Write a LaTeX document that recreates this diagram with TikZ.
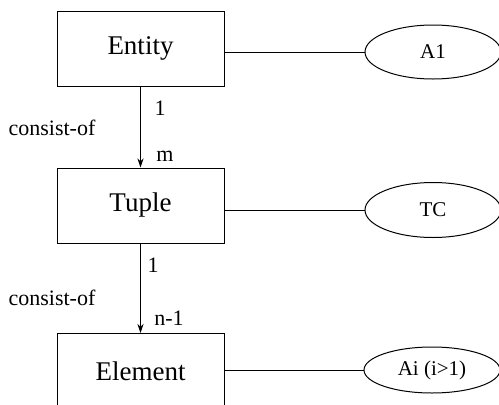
\documentclass[tikz,border=0pt]{standalone}
\usepackage{fontspec}
\setmainfont{Liberation Serif}
\usetikzlibrary{arrows.meta,shapes.geometric}
\begin{document}
\begin{tikzpicture}[x=1pt,y=-1pt,
  entitybox/.style={draw,line width=1pt,minimum width=167pt,minimum height=75pt,
    inner sep=0pt,font=\fontsize{27}{30}\selectfont},
  attr/.style={draw,ellipse,line width=1pt,minimum width=136pt,inner sep=0pt,
    font=\fontsize{21}{24}\selectfont},
  lbl/.style={inner sep=0pt,font=\fontsize{22}{25}\selectfont},
  link/.style={line width=1pt},
  rel/.style={line width=1pt,-{Stealth[length=9pt,width=6pt]}}]
\useasboundingbox (0,0) rectangle (499,405);
\clip (0,0) rectangle (499,405);
% entity boxes
\node[entitybox] (entity) at (140.5,48.5) {Entity};
\node[entitybox] (tuple) at (140.5,205.5) {Tuple};
\node[entitybox] (element) at (140.5,371) {Element};
% attribute ellipses
\node[attr,minimum height=54pt] (a1) at (433,52) {A1};
\node[attr,minimum height=55pt] (tc) at (433,210) {TC};
\node[attr,minimum height=46pt] (ai) at (432,370) {Ai (i>1)};
% attribute links
\draw[link] (entity.east |- a1.west) -- (a1.west);
\draw[link] (tuple.east |- tc.west) -- (tc.west);
\draw[link] (element.east |- ai.west) -- (ai.west);
% consist-of relationships
\draw[rel] (entity.south) -- (tuple.north);
\draw[rel] (tuple.south) -- (element.north);
% relationship labels
\node[lbl] (c1) at (160,108) {1};
\node[lbl] (c2) at (165,156) {m};
\node[lbl] (r1) at (52,128) {consist-of};
\node[lbl] (c3) at (153,265) {1};
\node[lbl] (c4) at (169,318) {n-1};
\node[lbl] (r2) at (52,298) {consist-of};
\end{tikzpicture}
\end{document}
